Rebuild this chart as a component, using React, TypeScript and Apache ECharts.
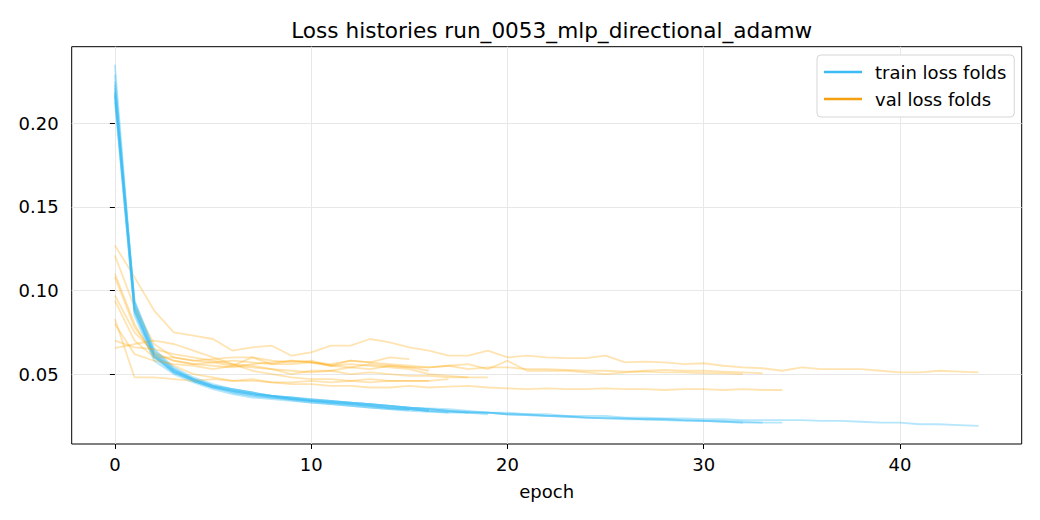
import { useEffect, useRef } from "react";
import * as echarts from "echarts";

const xTicks = [0, 10, 20, 30, 40];
const yTicks = [0.05, 0.1, 0.15, 0.2];

// Fold 1 (45 epochs)
const trainF1 = [0.217, 0.088, 0.060, 0.051, 0.046, 0.042, 0.040, 0.038, 0.037, 0.036, 0.035, 0.034, 0.033, 0.032, 0.031, 0.030, 0.0295, 0.029, 0.028, 0.027, 0.027, 0.026, 0.026, 0.025, 0.025, 0.025, 0.024, 0.024, 0.0235, 0.0235, 0.023, 0.023, 0.0225, 0.0225, 0.0225, 0.0225, 0.022, 0.022, 0.0215, 0.021, 0.021, 0.020, 0.020, 0.0195, 0.019];
const valF1 = [0.127, 0.108, 0.088, 0.075, 0.073, 0.071, 0.064, 0.066, 0.067, 0.061, 0.063, 0.067, 0.067, 0.071, 0.069, 0.066, 0.064, 0.061, 0.061, 0.064, 0.060, 0.061, 0.060, 0.0595, 0.0595, 0.061, 0.057, 0.0575, 0.057, 0.056, 0.0565, 0.055, 0.054, 0.0535, 0.052, 0.054, 0.053, 0.053, 0.053, 0.052, 0.051, 0.051, 0.052, 0.0515, 0.051];
// Fold 2 (35 epochs)
const trainF2 = [0.225, 0.092, 0.063, 0.053, 0.047, 0.043, 0.041, 0.039, 0.037, 0.036, 0.035, 0.034, 0.033, 0.032, 0.031, 0.030, 0.029, 0.028, 0.027, 0.027, 0.026, 0.026, 0.025, 0.025, 0.024, 0.024, 0.0235, 0.023, 0.023, 0.0225, 0.022, 0.022, 0.0215, 0.021, 0.021];
const valF2 = [0.110, 0.080, 0.060, 0.055, 0.050, 0.048, 0.046, 0.047, 0.045, 0.044, 0.044, 0.043, 0.043, 0.042, 0.042, 0.043, 0.042, 0.0425, 0.043, 0.042, 0.0415, 0.041, 0.0415, 0.041, 0.041, 0.0415, 0.041, 0.041, 0.0405, 0.041, 0.041, 0.0405, 0.041, 0.0405, 0.0405];
// Fold 3 (34 epochs)
const trainF3 = [0.235, 0.091, 0.062, 0.052, 0.047, 0.043, 0.040, 0.038, 0.037, 0.0355, 0.034, 0.0335, 0.033, 0.032, 0.031, 0.030, 0.029, 0.028, 0.0275, 0.027, 0.026, 0.0255, 0.025, 0.0245, 0.024, 0.0235, 0.023, 0.023, 0.0225, 0.022, 0.022, 0.0215, 0.021, 0.021];
const valF3 = [0.097, 0.075, 0.063, 0.058, 0.056, 0.055, 0.054, 0.056, 0.057, 0.058, 0.057, 0.056, 0.058, 0.057, 0.056, 0.055, 0.054, 0.055, 0.056, 0.053, 0.058, 0.052, 0.052, 0.052, 0.051, 0.050, 0.051, 0.052, 0.0525, 0.052, 0.052, 0.0515, 0.051, 0.0505];
// Fold 4 (33 epochs)
const trainF4 = [0.221, 0.089, 0.061, 0.052, 0.047, 0.043, 0.040, 0.038, 0.037, 0.036, 0.0345, 0.034, 0.033, 0.032, 0.031, 0.030, 0.029, 0.028, 0.027, 0.027, 0.026, 0.0255, 0.025, 0.0245, 0.024, 0.0235, 0.0235, 0.023, 0.023, 0.0225, 0.022, 0.0215, 0.021];
const valF4 = [0.121, 0.090, 0.068, 0.060, 0.058, 0.057, 0.058, 0.057, 0.056, 0.056, 0.057, 0.055, 0.054, 0.056, 0.055, 0.054, 0.054, 0.055, 0.053, 0.054, 0.054, 0.053, 0.053, 0.0525, 0.052, 0.052, 0.0515, 0.0515, 0.051, 0.051, 0.0505, 0.0505, 0.050];
// Fold 5 (20 epochs)
const trainF5 = [0.213, 0.087, 0.060, 0.051, 0.046, 0.042, 0.039, 0.037, 0.036, 0.035, 0.034, 0.033, 0.032, 0.031, 0.030, 0.029, 0.028, 0.027, 0.027, 0.026];
const valF5 = [0.108, 0.078, 0.062, 0.058, 0.056, 0.057, 0.055, 0.054, 0.053, 0.052, 0.051, 0.052, 0.050, 0.051, 0.050, 0.049, 0.049, 0.048, 0.048, 0.048];
// Fold 6 (19 epochs)
const trainF6 = [0.219, 0.093, 0.064, 0.053, 0.047, 0.043, 0.041, 0.039, 0.037, 0.035, 0.034, 0.033, 0.032, 0.031, 0.030, 0.029, 0.028, 0.0275, 0.027];
const valF6 = [0.094, 0.070, 0.060, 0.060, 0.058, 0.059, 0.060, 0.060, 0.058, 0.057, 0.058, 0.055, 0.056, 0.055, 0.054, 0.053, 0.050, 0.049, 0.048];
// Fold 7 (18 epochs)
const trainF7 = [0.216, 0.085, 0.058, 0.050, 0.045, 0.041, 0.038, 0.036, 0.035, 0.034, 0.033, 0.032, 0.031, 0.030, 0.029, 0.028, 0.0275, 0.027];
const valF7 = [0.083, 0.048, 0.048, 0.047, 0.046, 0.047, 0.046, 0.046, 0.045, 0.045, 0.046, 0.045, 0.046, 0.045, 0.046, 0.046, 0.046, 0.047];
// Fold 8 (17 epochs)
const trainF8 = [0.223, 0.094, 0.065, 0.054, 0.048, 0.044, 0.041, 0.039, 0.037, 0.035, 0.034, 0.033, 0.032, 0.031, 0.030, 0.029, 0.028];
const valF8 = [0.0655, 0.068, 0.070, 0.068, 0.064, 0.060, 0.056, 0.052, 0.050, 0.048, 0.047, 0.047, 0.046, 0.047, 0.046, 0.046, 0.046];
// Fold 9 (16 epochs)
const trainF9 = [0.229, 0.090, 0.062, 0.052, 0.046, 0.042, 0.039, 0.037, 0.036, 0.0345, 0.033, 0.032, 0.031, 0.030, 0.029, 0.0285];
const valF9 = [0.080, 0.062, 0.058, 0.056, 0.055, 0.053, 0.055, 0.060, 0.056, 0.058, 0.057, 0.055, 0.058, 0.057, 0.060, 0.059];
// Fold 10 (17 epochs)
const trainF10 = [0.218, 0.088, 0.061, 0.051, 0.046, 0.042, 0.040, 0.038, 0.036, 0.035, 0.034, 0.033, 0.032, 0.031, 0.0295, 0.029, 0.028];
const valF10 = [0.070, 0.066, 0.065, 0.062, 0.060, 0.058, 0.056, 0.055, 0.053, 0.050, 0.052, 0.052, 0.054, 0.053, 0.055, 0.054, 0.052];

const trainFolds = [trainF1, trainF2, trainF3, trainF4, trainF5, trainF6, trainF7, trainF8, trainF9, trainF10];
const valFolds = [valF1, valF2, valF3, valF4, valF5, valF6, valF7, valF8, valF9, valF10];

const TRAIN = "#3cbcf5";
const VAL = "#ffa500";
const VAL_LEGEND = "#f5a011";
const FONT = "DejaVu Sans";

const toPts = (arr: number[]) => arr.map((v, i) => [i, v]);

export default function App() {
  const ref = useRef<HTMLDivElement>(null);
  useEffect(() => {
    if (!ref.current) return;
    const chart = echarts.init(ref.current, undefined, { renderer: "svg" });
    const series: any[] = [];
    trainFolds.forEach((tr, k) => {
      series.push({
        type: "line",
        name: "train loss folds",
        data: toPts(tr),
        symbol: "none",
        silent: true,
        lineStyle: { color: TRAIN, width: 1.8, opacity: 0.38 },
        itemStyle: { color: TRAIN },
        z: 2,
      });
      series.push({
        type: "line",
        name: "val loss folds",
        data: toPts(valFolds[k]),
        symbol: "none",
        silent: true,
        lineStyle: { color: VAL, width: 1.8, opacity: 0.3 },
        itemStyle: { color: VAL },
        z: 2,
      });
    });
    chart.setOption({
      animation: false,
      backgroundColor: "#fff",
      title: {
        text: "Loss histories run_0053_mlp_directional_adamw",
        left: 546.7,
        top: 14,
        textAlign: "center",
        textStyle: { fontFamily: FONT, fontSize: 21.6, fontWeight: "normal", color: "#000" },
      },
      legend: {
        orient: "vertical",
        left: 817,
        top: 55,
        icon: "rect",
        itemWidth: 38,
        itemHeight: 2.4,
        itemGap: 9,
        padding: [8, 8, 9, 7],
        backgroundColor: "#fff",
        borderColor: "#d6d6d6",
        borderWidth: 1,
        borderRadius: 4,
        textStyle: { fontFamily: FONT, fontSize: 18, color: "#000", padding: [0, 0, 0, 8] },
        data: [
          { name: "train loss folds", icon: "rect", itemStyle: { color: TRAIN, opacity: 1 } },
          { name: "val loss folds", icon: "rect", itemStyle: { color: VAL_LEGEND, opacity: 1 } },
        ],
        selectedMode: false,
        z: 10,
      },
      grid: {
        left: 71.7,
        top: 46.7,
        right: 18.3,
        bottom: 76,
        show: true,
        borderColor: "#000",
        borderWidth: 1,
        backgroundColor: "transparent",
      },
      xAxis: {
        type: "value",
        min: -2.2,
        max: 46.2,
        name: "epoch",
        nameLocation: "middle",
        nameGap: 38,
        nameTextStyle: { fontFamily: FONT, fontSize: 18, color: "#000" },
        axisLine: { show: false },
        axisTick: { show: true, length: 5, customValues: xTicks, lineStyle: { color: "#000" } },
        axisLabel: {
          customValues: xTicks,
          margin: 11,
          fontFamily: FONT,
          fontSize: 18,
          color: "#000",
          formatter: (v: number) => String(v),
        },
        splitLine: { show: true, lineStyle: { color: "#e8e8e8", width: 1 } },
      },
      yAxis: {
        type: "value",
        min: 0.0082,
        max: 0.2458,
        axisLine: { show: false },
        axisTick: { show: true, length: 5, customValues: yTicks, lineStyle: { color: "#000" } },
        axisLabel: {
          customValues: yTicks,
          margin: 13,
          fontFamily: FONT,
          fontSize: 18,
          color: "#000",
          formatter: (v: number) => v.toFixed(2),
        },
        splitLine: { show: true, lineStyle: { color: "#e8e8e8", width: 1 } },
      },
      series,
    });
    return () => chart.dispose();
  }, []);
  return (
    <div
      ref={ref}
      style={{ position: "absolute", left: 0, top: 0, width: 1040, height: 520 }}
    />
  );
}
